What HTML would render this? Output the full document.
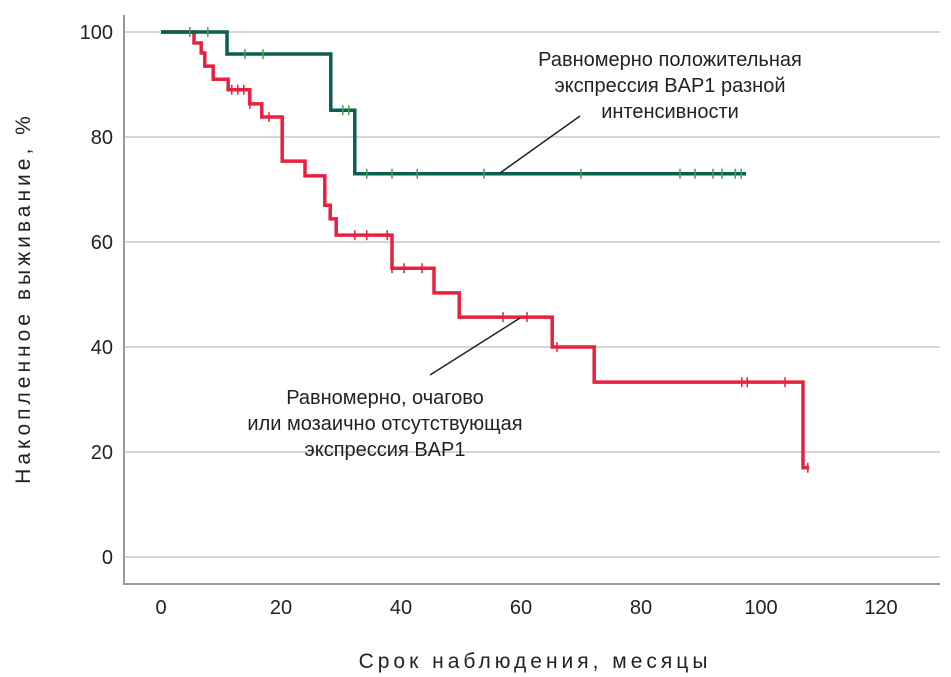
<!DOCTYPE html>
<html><head><meta charset="utf-8"><style>
body{margin:0;background:#fff}
svg{display:block;font-family:"Liberation Sans",sans-serif}
</style></head><body>
<svg id="chart" width="951" height="677">
<g id="grid"></g><g id="axes"></g><g id="series"></g><g id="labels"></g>
</svg>
<script>
const xTicks=[0,20,40,60,80,100,120];
const yTicks=[0,20,40,60,80,100];
const greenSteps=[[0,100],[11,95.8],[28.3,85.1],[32.3,73.0]];
const greenEnd=97.5;
const greenCensor=[4.8,7.8,14,17,30.3,31.3,34.3,38.5,42.7,53.8,70,86.5,89,92,93.5,95.7,96.7];
const redSteps=[[0,100],[5.5,97.9],[6.7,96.0],[7.3,93.5],[8.7,91.0],[11.2,89.0],[14.8,86.3],[16.8,83.8],[20.2,75.4],[24,72.6],[27.3,67.0],[28.2,64.4],[29.2,61.3],[38.5,55.0],[45.5,50.3],[49.7,45.7],[65.2,40.0],[72.2,33.3],[107,17.0]];
const redEnd=108;
const redCensor=[11.8,12.8,13.8,14.8,18,32.3,34.3,37.7,38.5,40.5,43.5,57,61,66,96.8,97.7,104,107.8];

const NS='http://www.w3.org/2000/svg';
const X=m=>161+m*6, Y=p=>557-p*5.25;
function mk(tag,attrs,parent,text){const e=document.createElementNS(NS,tag);for(const k in attrs)e.setAttribute(k,attrs[k]);if(text!==undefined)e.textContent=text;document.getElementById(parent).appendChild(e);return e;}
yTicks.forEach(t=>{
 const l=mk('line',{x1:124,x2:940,y1:Y(t),y2:Y(t),stroke:'#c8c8c8','stroke-width':1.5},'grid');
 
 
 const tx=mk('text',{x:113,y:Y(t)+7,'text-anchor':'end','font-size':20,fill:'#222'},'axes',t);
 
 
});
xTicks.forEach(t=>{
 const tx=mk('text',{x:X(t),y:614,'text-anchor':'middle','font-size':20,fill:'#222'},'axes',t);
 
 
});
const ax=mk('path',{d:'M124 15 V584 H940',fill:'none',stroke:'#999','stroke-width':2},'axes');


function series(steps,end,cens,color,tickColor,name){
 let d='M'+X(steps[0][0])+' '+Y(steps[0][1]);
 for(let i=1;i<steps.length;i++){d+=' H'+X(steps[i][0])+' V'+Y(steps[i][1]);}
 d+=' H'+X(end);
 const p=mk('path',{d:d,fill:'none',stroke:color,'stroke-width':3.5},'series');
 
 
 cens.forEach(c=>{let v=steps[0][1];steps.forEach(s=>{if(s[0]<=c)v=s[1];});
  const t=mk('line',{x1:X(c),x2:X(c),y1:Y(v)-5,y2:Y(v)+5,stroke:tickColor,'stroke-width':1.5},'series');
  
  
 });
}
series(redSteps,redEnd,redCensor,'#e8213f','#e8213f','red');
series(greenSteps,greenEnd,greenCensor,'#0b5e52','#3aa84a','green');
</script>
<g></g>
<svg width="951" height="677" style="position:absolute;left:0;top:0" font-family="Liberation Sans, sans-serif">
<line x1="500" y1="173" x2="580" y2="116" stroke="#222" stroke-width="1.5"/>
<line x1="430" y1="375" x2="520" y2="318" stroke="#222" stroke-width="1.5"/>
<g font-size="20" fill="#222" text-anchor="middle">
<text x="670" y="66">Равномерно положительная</text>
<text x="670" y="92">экспрессия BAP1 разной</text>
<text x="670" y="118">интенсивности</text></g>
<g font-size="20" fill="#222" text-anchor="middle">
<text x="385" y="404">Равномерно, очагово</text>
<text x="385" y="430">или мозаично отсутствующая</text>
<text x="385" y="456">экспрессия BAP1</text></g>
<text x="535" y="668" font-size="21" letter-spacing="4" text-anchor="middle" fill="#222">Срок наблюдения, месяцы</text>
<text transform="translate(30,298) rotate(-90)" font-size="21" letter-spacing="4" text-anchor="middle" fill="#222">Накопленное выживание, %</text>
</svg>
</body></html>
